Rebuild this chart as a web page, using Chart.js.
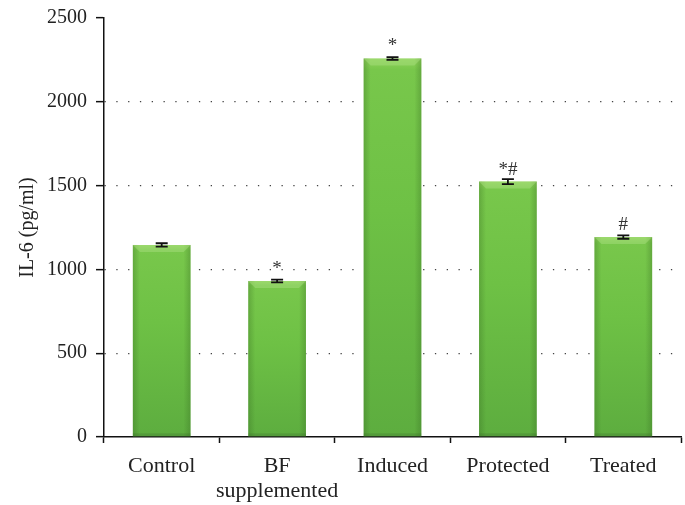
<!DOCTYPE html>
<html>
<head>
<meta charset="utf-8">
<script src="https://cdn.jsdelivr.net/npm/chart.js@4/dist/chart.umd.min.js"></script>
<style>
  html, body { margin: 0; padding: 0; background: #fff; }
  #wrap { width: 685px; height: 505px; }
</style>
</head>
<body>
<div id="wrap"><canvas id="c" width="685" height="505"></canvas></div>
<script>
// IL-6 levels per group (pg/ml), mean and standard error
const groups = ['Control', ['BF', 'supplemented'], 'Induced', 'Protected', 'Treated'];
const il6Mean = [1146, 931, 2259, 1524, 1193];
const il6Err = [10, 8, 8, 15, 10];
const significance = ['', '*', '*', '*#', '#'];
const yTicks = [0, 500, 1000, 1500, 2000, 2500];

const SERIF = '"Liberation Serif", "DejaVu Serif", serif';

// Vertical green gradient for each bar, from its top edge down to the baseline
function barFill(ctx) {
  const chart = ctx.chart;
  const { chartArea } = chart;
  if (!chartArea) return '#6cbf43';
  const y = chart.scales.y;
  const top = y.getPixelForValue(ctx.raw);
  const base = y.getPixelForValue(0);
  const g = chart.ctx.createLinearGradient(0, top, 0, base);
  g.addColorStop(0, '#8fd25a');
  g.addColorStop(0.03, '#78c74b');
  g.addColorStop(0.4, '#6ec145');
  g.addColorStop(1, '#5dad3f');
  return g;
}

// Side shading and top bevel that give the bars their rounded look
const bevelPlugin = {
  id: 'bevel',
  afterDatasetsDraw(chart) {
    const ctx = chart.ctx;
    const meta = chart.getDatasetMeta(0);
    meta.data.forEach((bar) => {
      const left = bar.x - bar.width / 2;
      const right = bar.x + bar.width / 2;
      const top = bar.y;
      const bottom = bar.base;
      ctx.save();
      let g = ctx.createLinearGradient(left, 0, left + 7, 0);
      g.addColorStop(0, 'rgba(50,100,30,0.30)');
      g.addColorStop(1, 'rgba(50,100,30,0)');
      ctx.fillStyle = g;
      ctx.fillRect(left, top, 7, bottom - top);
      g = ctx.createLinearGradient(right - 7, 0, right, 0);
      g.addColorStop(0, 'rgba(50,100,30,0)');
      g.addColorStop(1, 'rgba(50,100,30,0.30)');
      ctx.fillStyle = g;
      ctx.fillRect(right - 7, top, 7, bottom - top);
      ctx.fillStyle = 'rgba(170,225,130,0.45)';
      ctx.beginPath();
      ctx.moveTo(left, top);
      ctx.lineTo(right, top);
      ctx.lineTo(right - 7, top + 7);
      ctx.lineTo(left + 7, top + 7);
      ctx.closePath();
      ctx.fill();
      ctx.fillStyle = 'rgba(50,90,40,0.22)';
      ctx.fillRect(left, bottom - 3, bar.width, 3);
      ctx.restore();
    });
  }
};

// Error bars and significance markers
const errorPlugin = {
  id: 'errorBars',
  afterDatasetsDraw(chart) {
    const ctx = chart.ctx;
    const y = chart.scales.y;
    const meta = chart.getDatasetMeta(0);
    meta.data.forEach((bar, i) => {
      const m = il6Mean[i];
      const e = il6Err[i];
      const yHi = y.getPixelForValue(m + e);
      const yLo = y.getPixelForValue(m - e);
      const half = 6;
      ctx.save();
      ctx.strokeStyle = '#111';
      ctx.lineWidth = 1.8;
      ctx.beginPath();
      ctx.moveTo(bar.x, yHi); ctx.lineTo(bar.x, yLo);
      ctx.moveTo(bar.x - half, yHi); ctx.lineTo(bar.x + half, yHi);
      ctx.moveTo(bar.x - half, yLo); ctx.lineTo(bar.x + half, yLo);
      ctx.stroke();
      if (significance[i]) {
        ctx.fillStyle = '#333';
        ctx.font = '19px ' + SERIF;
        ctx.textAlign = 'center';
        ctx.textBaseline = 'middle';
        ctx.fillText(significance[i], bar.x, y.getPixelForValue(m) - 12);
      }
      ctx.restore();
    });
  }
};

new Chart(document.getElementById('c'), {
  type: 'bar',
  data: {
    labels: groups,
    datasets: [{
      data: il6Mean,
      backgroundColor: barFill,
      borderWidth: 0,
      barPercentage: 0.5,
      categoryPercentage: 1.0
    }]
  },
  options: {
    responsive: false,
    animation: false,
    layout: { padding: { top: 0, right: 4, left: 0, bottom: 0 } },
    plugins: { legend: { display: false }, tooltip: { enabled: false } },
    scales: {
      x: {
        grid: {
          offset: true,
          drawOnChartArea: false,
          drawTicks: true,
          tickLength: 6,
          tickColor: '#111',
          tickWidth: 1.5
        },
        border: { display: true, color: '#111', width: 1.5 },
        ticks: {
          color: '#222',
          padding: 11,
          font: { family: SERIF, size: 22, lineHeight: 1.14 },
          maxRotation: 0,
          autoSkip: false
        },
        afterFit(scale) { scale.height = 68; }
      },
      y: {
        min: 0,
        max: 2500,
        afterBuildTicks(scale) { scale.ticks = yTicks.map(v => ({ value: v })); },
        grid: {
          drawTicks: true,
          tickLength: 8,
          tickColor: '#111',
          tickWidth: 1.5,
          tickBorderDash: [],
          color: (c) => (c.tick && (c.tick.value === 0 || c.tick.value === 2500)) ? 'rgba(0,0,0,0)' : '#444',
          lineWidth: 1.3
        },
        border: { display: true, color: '#111', width: 1.5, dash: [1.3, 10.5] },
        ticks: {
          color: '#222',
          padding: 9,
          font: { family: SERIF, size: 20, lineHeight: 0.9 },
          callback: (v) => String(v)
        },
        title: {
          display: true,
          text: 'IL-6 (pg/ml)',
          color: '#222',
          font: { family: SERIF, size: 20 },
          padding: { top: 16, bottom: 4 }
        },
        afterFit(scale) { scale.width = 104; }
      }
    }
  },
  plugins: [bevelPlugin, errorPlugin]
});
</script>
</body>
</html>
